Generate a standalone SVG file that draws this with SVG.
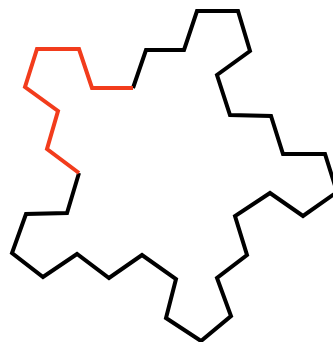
<svg xmlns="http://www.w3.org/2000/svg" width="333" height="342" viewBox="0 0 333 342">
<style>
.ln{fill:none;stroke-width:4;stroke-linejoin:miter;stroke-miterlimit:10;stroke-linecap:butt}
.blk{stroke:#000000}
.red{stroke:#f23c1c}
</style>
<rect width="333" height="342" fill="#ffffff"/>
<g id="curve">
<polyline class="ln blk" points="133,88 146,50 184,50 197,11 238,11 250,51 217,75 230,115 271,116 283,154 325,154 337,192 303,216 270,193 235,216 247,255 217,278 231,316 201,341 166,318 176,279 142,255 109,278 77,254 43,277 12,253 26,214 67,213 79,173"/>
<polyline class="ln red" points="79,173 47,149 58,111 25,87 37,49 79,49 92,88 133,88"/>
</g>
</svg>
